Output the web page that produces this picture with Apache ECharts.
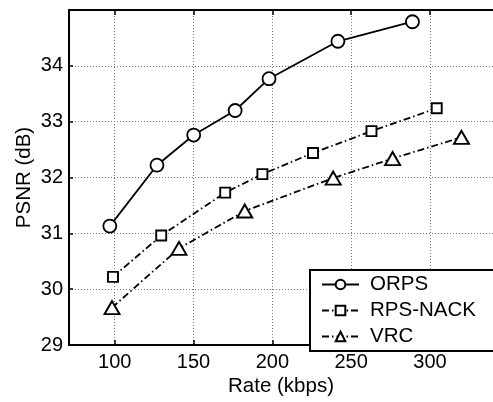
<!DOCTYPE html>
<html>
<head>
<meta charset="utf-8">
<script src="https://cdn.jsdelivr.net/npm/echarts@6/dist/echarts.min.js"></script>
<style>html,body{margin:0;padding:0;background:#fff;}#c{width:493px;height:402px;}</style>
</head>
<body>
<div id="c"></div>
<script>
var xTicks = [100, 150, 200, 250, 300];
var yTicks = [29, 30, 31, 32, 33, 34];
var orpsX = [96.9, 126.8, 150.1, 176.4, 197.9, 241.6, 288.9];
var orpsY = [31.13, 32.22, 32.76, 33.20, 33.77, 34.44, 34.79];
var nackX = [98.9, 129.5, 170.1, 193.7, 225.8, 262.9, 304.3];
var nackY = [30.22, 30.96, 31.73, 32.06, 32.44, 32.83, 33.24];
var vrcX = [98.3, 140.8, 182.5, 238.6, 276.3, 320.0];
var vrcY = [29.67, 30.73, 31.40, 31.99, 32.34, 32.72];
var names = ['ORPS', 'RPS-NACK', 'VRC'];

function pairs(xs, ys) { return xs.map(function (x, i) { return [x, ys[i]]; }); }

var font = 'Liberation Sans, Arial, Helvetica, sans-serif';
var chart = echarts.init(document.getElementById('c'), null, {renderer: 'canvas'});
var dashDot = [7, 3, 1.5, 3];
chart.setOption({
  animation: false,
  backgroundColor: '#fff',
  grid: {left: 69, top: 10, width: 435, height: 342.7, containLabel: false},
  xAxis: [{
    type: 'value', min: 71, max: 340, position: 'bottom',
    name: 'Rate (kbps)', nameLocation: 'middle', nameGap: 31, nameMoveOverlap: false,
    nameTextStyle: {color: '#000', fontSize: 20.5, fontFamily: font},
    axisLine: {show: true, onZero: false, lineStyle: {color: '#000', width: 2}},
    axisTick: {show: true, inside: true, length: 5, customValues: xTicks, lineStyle: {color: '#000', width: 1.5}},
    axisLabel: {customValues: xTicks, color: '#000', fontSize: 20, fontFamily: font, margin: 7},
    splitLine: {show: true, lineStyle: {color: '#777', type: [1, 2], width: 1}}
  }, {
    type: 'value', min: 71, max: 340, position: 'top',
    axisLine: {show: true, onZero: false, lineStyle: {color: '#000', width: 2}},
    axisTick: {show: true, inside: true, length: 5, customValues: xTicks, lineStyle: {color: '#000', width: 1.5}},
    axisLabel: {show: false},
    splitLine: {show: false}
  }],
  yAxis: [{
    type: 'value', min: 29, max: 35, interval: 1,
    name: 'PSNR (dB)', nameLocation: 'middle', nameGap: 34, nameMoveOverlap: false,
    nameTextStyle: {color: '#000', fontSize: 20.5, fontFamily: font},
    axisLine: {show: true, onZero: false, lineStyle: {color: '#000', width: 2}},
    axisTick: {show: true, inside: true, length: 4, lineStyle: {color: '#000', width: 1.5}},
    axisLabel: {color: '#000', fontSize: 20, fontFamily: font, margin: 6, showMaxLabel: false,
      formatter: function (v) { return yTicks.indexOf(v) >= 0 ? String(v) : ''; }},
    splitLine: {show: true, lineStyle: {color: '#777', type: [1, 2], width: 1}}
  }],
  legend: {
    data: names, orient: 'vertical', left: 310, top: 270,
    backgroundColor: '#fff', borderColor: '#000', borderWidth: 2, borderRadius: 0,
    padding: [4, 40, 4, 11], itemWidth: 37, itemHeight: 12, itemGap: 5,
    textStyle: {color: '#000', fontSize: 20.5, fontFamily: font, lineHeight: 20, padding: [0, 0, 0, 6]}
  },
  series: [{
    name: names[0], type: 'line', data: pairs(orpsX, orpsY),
    symbol: 'circle', symbolSize: 13,
    itemStyle: {color: '#fff', borderColor: '#000', borderWidth: 1.8},
    lineStyle: {color: '#000', width: 1.8, type: 'solid'}, z: 3
  }, {
    name: names[1], type: 'line', data: pairs(nackX, nackY),
    symbol: 'rect', symbolSize: 10,
    itemStyle: {color: '#fff', borderColor: '#000', borderWidth: 1.9},
    lineStyle: {color: '#000', width: 1.8, type: dashDot}, z: 3
  }, {
    name: names[2], type: 'line', data: pairs(vrcX, vrcY),
    symbol: 'triangle', symbolSize: [15, 13],
    itemStyle: {color: '#fff', borderColor: '#000', borderWidth: 1.9},
    lineStyle: {color: '#000', width: 1.8, type: dashDot}, z: 3
  }]
});
</script>
</body>
</html>
